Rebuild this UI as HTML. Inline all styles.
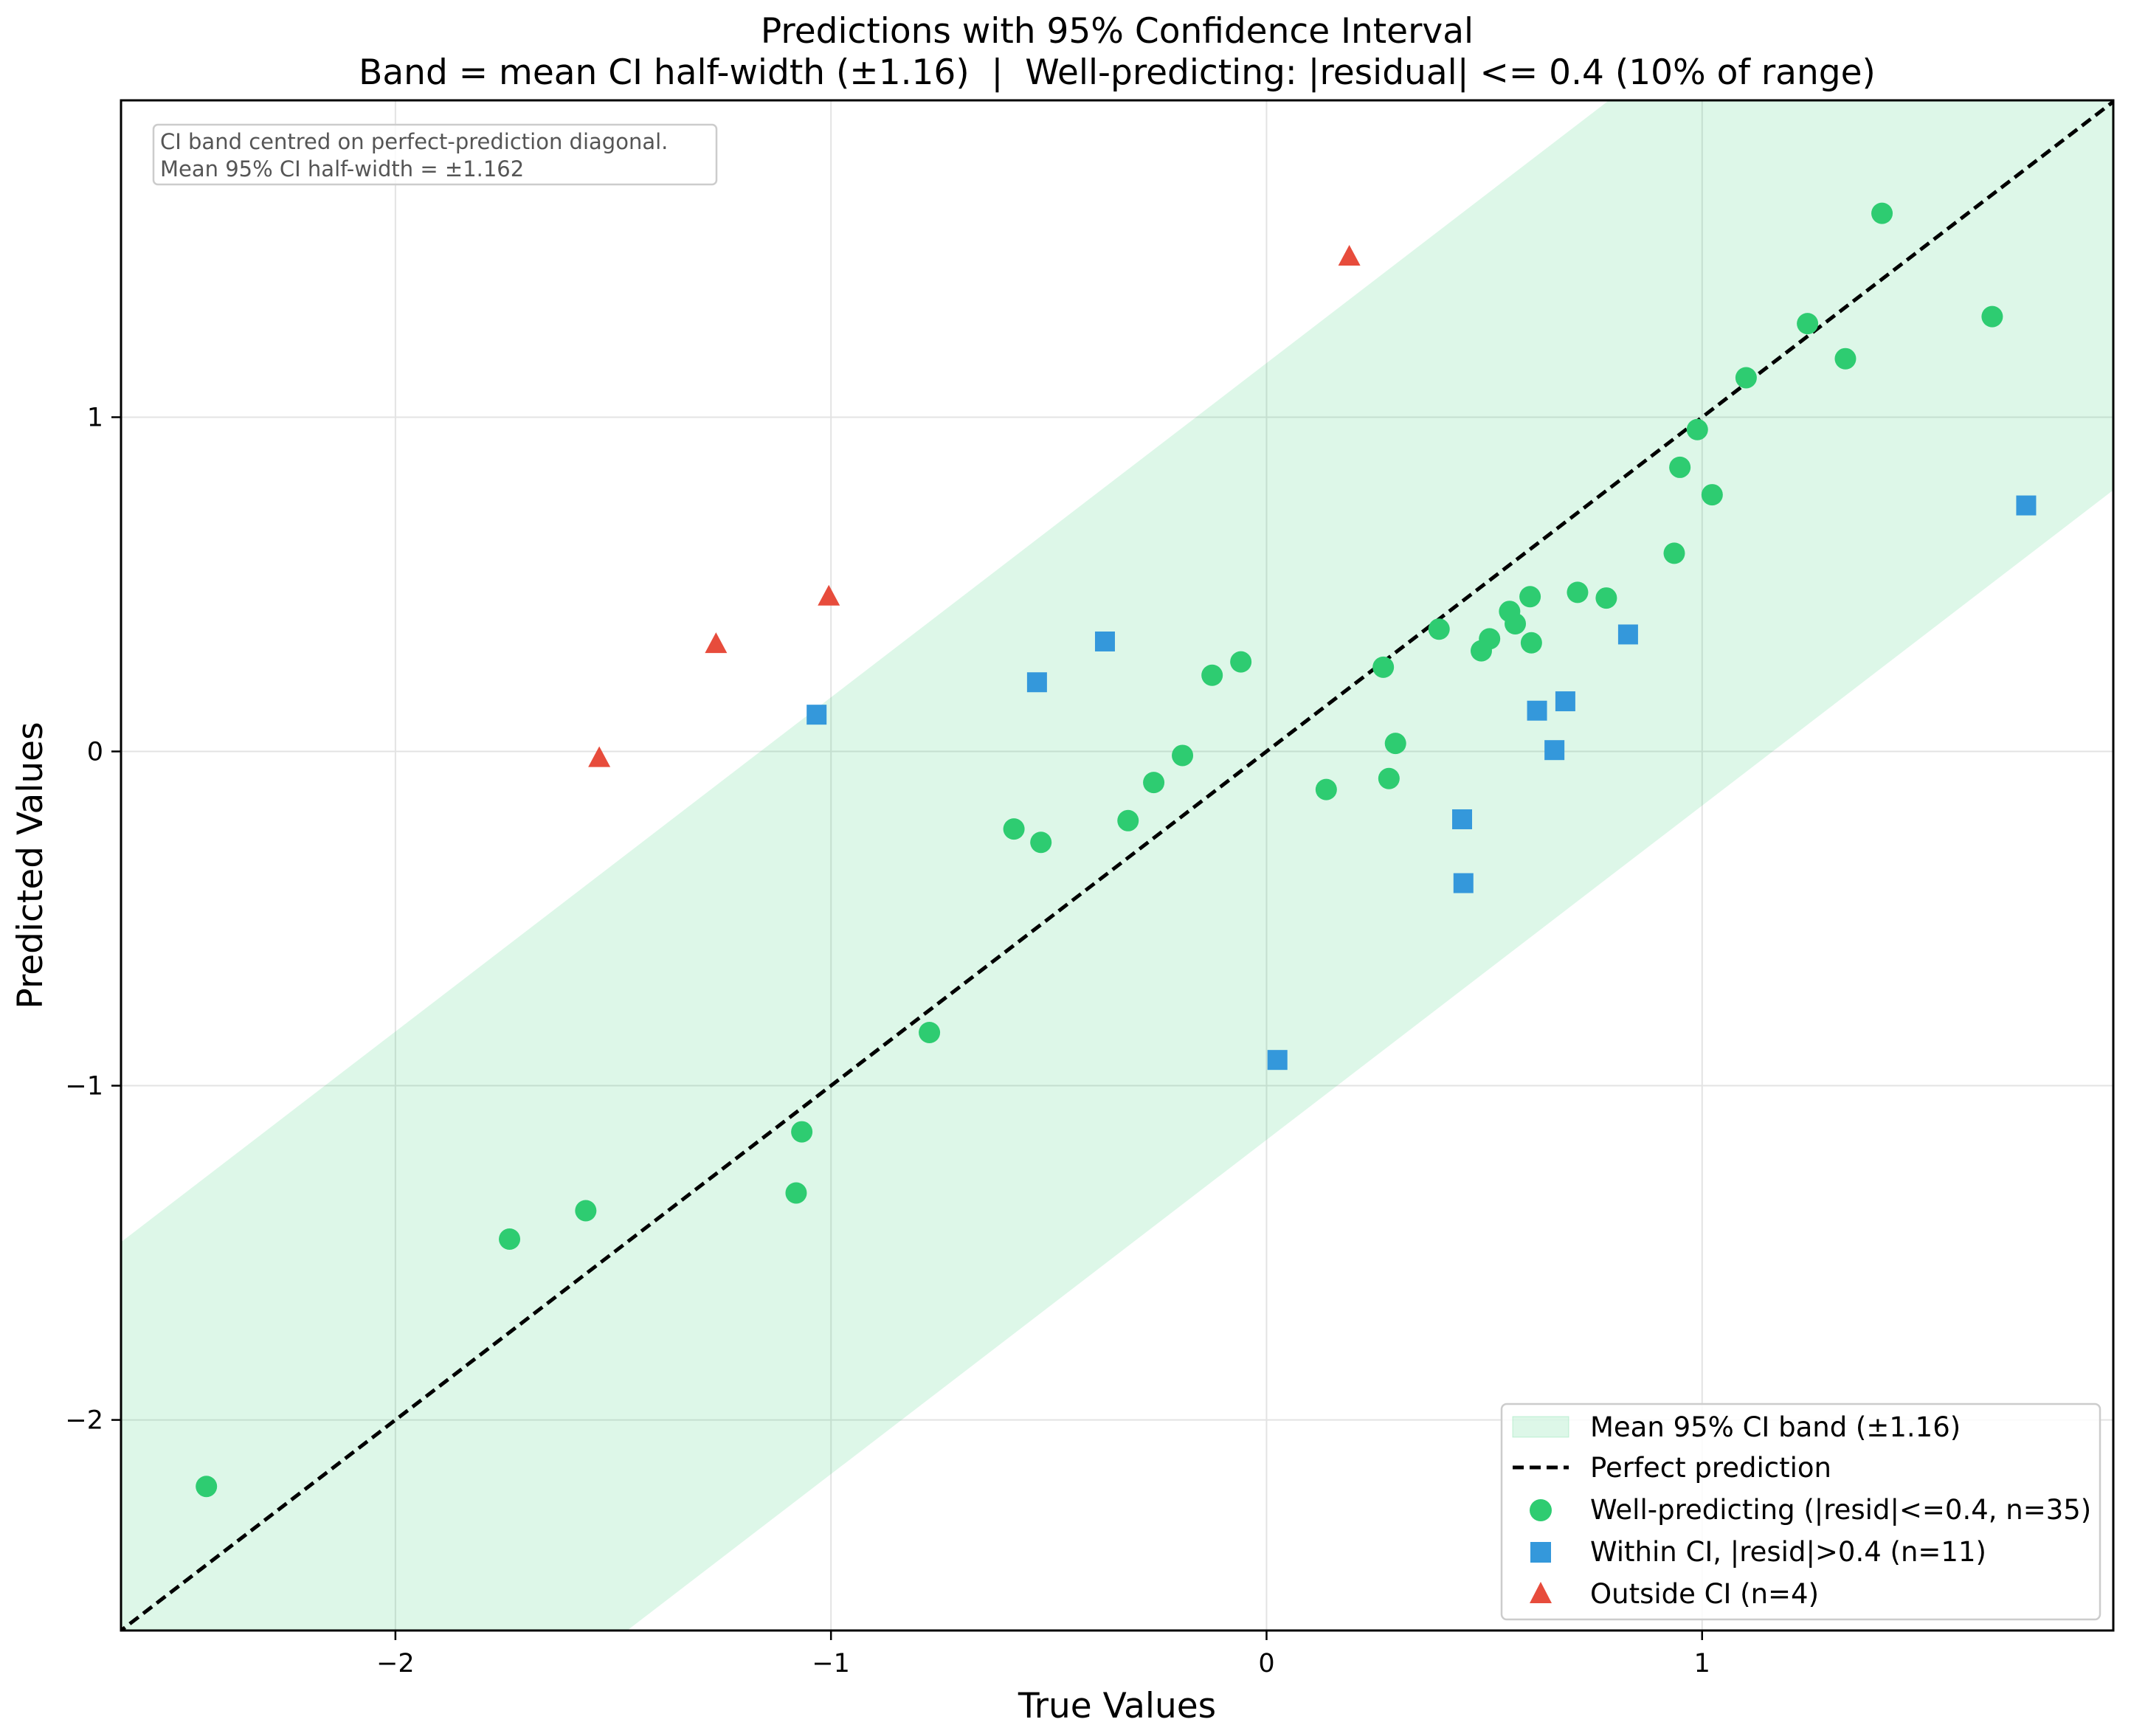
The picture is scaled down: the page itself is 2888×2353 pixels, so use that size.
<!DOCTYPE html>
<html><head><meta charset="utf-8"><style>
html,body{margin:0;padding:0;background:#fff;overflow:hidden;width:2888px;height:2353px}
svg{display:block;font-family:"DejaVu Sans","Liberation Sans",sans-serif}
</style></head><body>
<svg id="chart" width="2888" height="2353" viewBox="0 0 2888 2353" xmlns="http://www.w3.org/2000/svg">
<rect width="2888" height="2353" fill="#fff"/>
<text x="1514" y="58" font-size="47" text-anchor="middle">Predictions with 95% Confidence Interval</text>
<text x="1514" y="114" font-size="47" text-anchor="middle" xml:space="preserve">Band = mean CI half-width (±1.16)  |  Well-predicting: |residual| &lt;= 0.4 (10% of range)</text>
<defs><clipPath id="clip"><rect x="164" y="136" width="2700" height="2074"/></clipPath></defs>
<g id="grid"></g>
<g id="band" clip-path="url(#clip)"></g>
<g id="marks" clip-path="url(#clip)"></g>
<rect x="164" y="136" width="2700" height="2074" fill="none" stroke="#000" stroke-width="3"/>
<g id="ticks"></g>
<text x="1514" y="2328" font-size="47" text-anchor="middle">True Values</text>
<text transform="translate(57,1173) rotate(-90)" font-size="47" text-anchor="middle">Predicted Values</text>
<g>
<rect x="208" y="169" width="763" height="81" rx="6" fill="#fff" fill-opacity="0.8" stroke="#ccc" stroke-width="2.5"/>
<text x="217" y="202" font-size="29" fill="#555">CI band centred on perfect-prediction diagonal.</text>
<text x="217" y="239" font-size="29" fill="#555">Mean 95% CI half-width = ±1.162</text>
</g>
<g>
<rect x="2035" y="1903" width="811" height="292" rx="7" fill="#fff" fill-opacity="0.85" stroke="#ccc" stroke-width="2.5"/>
<rect x="2050" y="1920" width="76" height="28" fill="#2ecc71" fill-opacity="0.16" stroke="#2ecc71" stroke-opacity="0.25"/>
<text x="2155" y="1947" font-size="37">Mean 95% CI band (±1.16)</text>
<line x1="2050" y1="1989" x2="2126" y2="1989" stroke="#000" stroke-width="5" stroke-dasharray="15,8"/>
<text x="2155" y="2002" font-size="37">Perfect prediction</text>
<circle cx="2088" cy="2047" r="15" fill="#2ecc71"/>
<text x="2155" y="2059" font-size="37">Well-predicting (|resid|&lt;=0.4, n=35)</text>
<rect x="2074" y="2090" width="28" height="28" fill="#3498db"/>
<text x="2155" y="2116" font-size="37">Within CI, |resid|&gt;0.4 (n=11)</text>
<polygon points="2088,2144 2103,2173 2073,2173" fill="#e74c3c"/>
<text x="2155" y="2173" font-size="37">Outside CI (n=4)</text>
</g>
</svg>
<script>
const xTicks=[-2,-1,0,1];
const yTicks=[-2,-1,0,1];
const tickLabels=["−2","−1","0","1"];
const halfWidth=1.162;
const greenX=[1.413,1.666,1.242,1.329,1.101,0.989,0.949,1.023,0.936,0.714,0.780,0.605,0.558,0.571,0.396,0.512,0.608,0.493,0.268,-0.059,-0.125,0.296,-0.193,-0.259,0.281,0.137,-0.318,-0.580,-0.518,-0.774,-1.067,-1.080,-1.563,-1.738,-2.434];
const greenY=[1.610,1.301,1.280,1.175,1.118,0.963,0.850,0.768,0.593,0.476,0.459,0.463,0.419,0.382,0.366,0.337,0.325,0.301,0.252,0.268,0.228,0.024,-0.012,-0.093,-0.081,-0.114,-0.207,-0.232,-0.272,-0.841,-1.138,-1.321,-1.374,-1.459,-2.199];
const blueX=[1.744,0.830,-0.371,-0.527,-1.033,0.621,0.686,0.661,0.449,0.452,0.025];
const blueY=[0.736,0.350,0.329,0.207,0.110,0.122,0.150,0.004,-0.203,-0.394,-0.923];
const redX=[0.190,-1.005,-1.264,-1.532];
const redY=[1.480,0.463,0.321,-0.020];
const xMin=-2.630,xMax=1.944,yMin=-2.630,yMax=1.948;
const L=164,R=2864,T=136,B=2210;
const sx=v=>L+(v-xMin)/(xMax-xMin)*(R-L);
const sy=v=>B-(v-yMin)/(yMax-yMin)*(B-T);
const NS="http://www.w3.org/2000/svg";
function mk(tag,attrs,parent){const e=document.createElementNS(NS,tag);for(const k in attrs)e.setAttribute(k,attrs[k]);parent.appendChild(e);return e;}
const grid=document.getElementById('grid'),ticks=document.getElementById('ticks');
xTicks.forEach((v,i)=>{
  const g=mk('line',{x1:sx(v),x2:sx(v),y1:T,y2:B,stroke:'#e3e3e3','stroke-width':2},grid);
  
  
  const t=mk('line',{x1:sx(v),x2:sx(v),y1:B,y2:B+13,stroke:'#000','stroke-width':2.5},ticks);
  
  
  const l=mk('text',{x:sx(v),y:B+56,'font-size':35,'text-anchor':'middle'},ticks);l.textContent=tickLabels[i];
  
  
});
yTicks.forEach((v,i)=>{
  const g=mk('line',{x1:L,x2:R,y1:sy(v),y2:sy(v),stroke:'#e3e3e3','stroke-width':2},grid);
  
  
  const t=mk('line',{x1:L-13,x2:L,y1:sy(v),y2:sy(v),stroke:'#000','stroke-width':2.5},ticks);
  
  
  const l=mk('text',{x:L-24,y:sy(v)+12,'font-size':35,'text-anchor':'end'},ticks);l.textContent=tickLabels[i];
  
  
});
const band=document.getElementById('band');
const a=xMin-1,b=xMax+1;
const bp=mk('polygon',{points:`${sx(a)},${sy(a+halfWidth)} ${sx(b)},${sy(b+halfWidth)} ${sx(b)},${sy(b-halfWidth)} ${sx(a)},${sy(a-halfWidth)}`,fill:'#2ecc71','fill-opacity':0.16},band);


const marks=document.getElementById('marks');
const dl=mk('line',{x1:sx(a),y1:sy(a),x2:sx(b),y2:sy(b),stroke:'#000','stroke-width':5,'stroke-dasharray':'15,8'},marks);


greenX.forEach((x,i)=>{
  const c=mk('circle',{cx:sx(x),cy:sy(greenY[i]),r:14.5,fill:'#2ecc71'},marks);
  
  
});
blueX.forEach((x,i)=>{
  const c=mk('rect',{x:sx(x)-13.5,y:sy(blueY[i])-13.5,width:27,height:27,fill:'#3498db'},marks);
  
  
});
redX.forEach((x,i)=>{
  const px=sx(x),py=sy(redY[i]);
  const c=mk('polygon',{points:`${px},${py-16} ${px+15},${py+12} ${px-15},${py+12}`,fill:'#e74c3c'},marks);
  
  
});
</script>
</body></html>
